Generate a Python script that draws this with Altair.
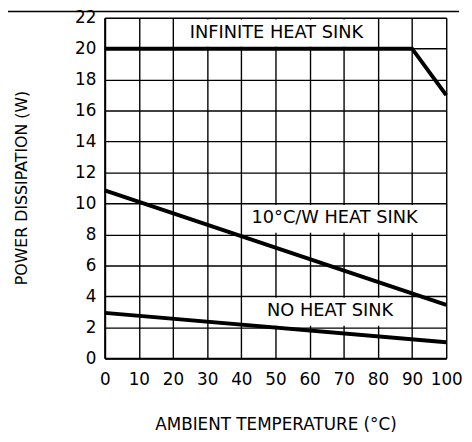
import altair as alt
import pandas as pd

# ---- data ----
x_ticks = list(range(0, 101, 10))
y_ticks = list(range(0, 23, 2))

inf_x = [0, 90, 100]
inf_y = [20, 20, 17]
hs_x = [0, 100]
hs_y = [10.85, 3.45]
no_x = [0, 100]
no_y = [2.93, 1.03]

labels = ["INFINITE HEAT SINK", "10°C/W HEAT SINK", "NO HEAT SINK"]
label_x = [50.3, 67.3, 66.0]
label_y = [21.0, 9.05, 3.05]
box_x1 = [20.4, 40.4, 40.4]
box_x2 = [79.6, 99.6, 89.6]
box_y1 = [20.12, 8.1, 2.1]
box_y2 = [21.88, 9.9, 3.9]

FONT = "DejaVu Sans"

lines = pd.DataFrame(
    [{"series": "inf", "x": a, "y": b, "o": i} for i, (a, b) in enumerate(zip(inf_x, inf_y))]
    + [{"series": "hs", "x": a, "y": b, "o": i} for i, (a, b) in enumerate(zip(hs_x, hs_y))]
    + [{"series": "no", "x": a, "y": b, "o": i} for i, (a, b) in enumerate(zip(no_x, no_y))]
)
lab = pd.DataFrame({"label": labels, "x": label_x, "y": label_y})
boxes = pd.DataFrame({"x1": box_x1, "x2": box_x2, "y1": box_y1, "y2": box_y2})

xs = alt.Scale(domain=[0, 100], nice=False, zero=False)
ys = alt.Scale(domain=[0, 22], nice=False, zero=False)

xaxis = alt.Axis(
    values=x_ticks, title="AMBIENT TEMPERATURE (°C)", grid=True, gridColor="black",
    gridWidth=1.4, gridOpacity=1, domainColor="black", domainWidth=2, ticks=False,
    tickSize=0, labelPadding=14, labelFont=FONT, labelFontSize=17, labelColor="black",
    titleFont=FONT, titleFontSize=17, titleFontWeight="normal", titleColor="black",
    titleX=173, titleY=67, titleBaseline="middle", titleAlign="center", labelFlush=False,
    labelOverlap=False,
)
yaxis = alt.Axis(
    values=y_ticks, title="POWER DISSIPATION (W)", grid=True, gridColor="black",
    gridWidth=1.4, gridOpacity=1, domainColor="black", domainWidth=2, ticks=False,
    tickSize=0, labelPadding=9, labelFont=FONT, labelFontSize=17, labelColor="black",
    titleFont=FONT, titleFontSize=16, titleFontWeight="normal", titleColor="black",
    titleX=-84, titleY=172, titleBaseline="middle", titleAlign="center", titleAngle=270,
    labelFlush=False, labelOverlap=False,
)

base_lines = alt.Chart(lines).mark_line(color="black", strokeWidth=4, clip=False).encode(
    x=alt.X("x:Q", scale=xs, axis=xaxis),
    y=alt.Y("y:Q", scale=ys, axis=yaxis),
    detail="series:N",
    order="o:Q",
)

rects = alt.Chart(boxes).mark_rect(color="white").encode(
    x=alt.X("x1:Q", scale=xs, axis=xaxis), x2="x2:Q",
    y=alt.Y("y1:Q", scale=ys, axis=yaxis), y2="y2:Q",
)

texts = alt.Chart(lab).mark_text(font=FONT, fontSize=18, color="black",
                                 align="center", baseline="middle").encode(
    x=alt.X("x:Q", scale=xs, axis=xaxis), y=alt.Y("y:Q", scale=ys, axis=yaxis),
    text="label:N"
)

top_rule = alt.Chart(pd.DataFrame({"a": [0]})).mark_rule(color="black", strokeWidth=1.5).encode(
    x=alt.value(-98), x2=alt.value(359), y=alt.value(-6.4)
)

chart = alt.layer(rects, base_lines, texts, top_rule).properties(
    width=346, height=345,
    autosize=alt.AutoSizeParams(type="none"),
    padding={"left": 98, "top": 7, "right": 18, "bottom": 80},
).configure_view(stroke="black", strokeWidth=2).configure(background="white")

chart.save("out.html", embed_options={"renderer": "svg", "actions": False})
